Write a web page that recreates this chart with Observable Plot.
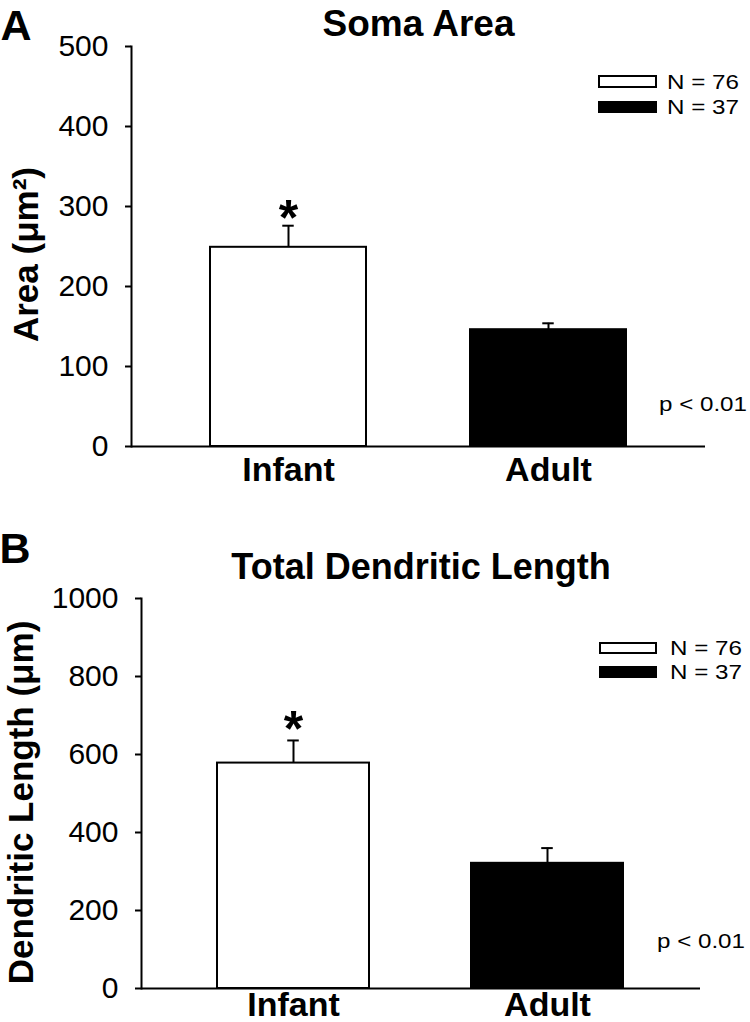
<!DOCTYPE html>
<html><head><meta charset="utf-8">
<script src="https://cdn.jsdelivr.net/npm/d3@7"></script>
<script src="https://cdn.jsdelivr.net/npm/@observablehq/plot@0.6"></script>
<style>
body{margin:0;background:#fff;}
#wrap{position:relative;width:750px;height:1022px;font-family:"Liberation Sans",Arial,sans-serif;overflow:hidden;}
.panel{position:absolute;left:0;}
.box{position:absolute;box-sizing:border-box;border:2px solid #000;}
.lt{position:absolute;font-size:21px;line-height:21px;white-space:nowrap;transform:scaleX(1.15);transform-origin:0 0;color:#000;}
</style></head><body><div id="wrap"></div>
<script>
// ---- data ----
const groups = ["Infant", "Adult"];
const groupFill = ["white", "black"];
const groupN = ["N = 76", "N = 37"];
const somaMean = [249, 146];
const somaErr = [27, 8];
const dendMean = [578, 321];
const dendErr = [58, 39];
const somaTicks = [0, 100, 200, 300, 400, 500];
const dendTicks = [0, 200, 400, 600, 800, 1000];
const pText = "p < 0.01";

const wrap = document.getElementById("wrap");
const FONT = "'Liberation Sans', Arial, sans-serif";

function panel(cfg) {
  const data = groups.map((g, i) => ({group: g, mean: cfg.means[i], err: cfg.errs[i], fill: groupFill[i]}));
  const W = 750;
  const step = (W - cfg.ml - cfg.mr) / 2.2;
  const capInset = (step * 0.6 - 12) / 2;
  const svg = Plot.plot({
    width: W, height: cfg.h,
    marginLeft: cfg.ml, marginRight: cfg.mr, marginTop: cfg.mt, marginBottom: cfg.mb,
    style: {fontFamily: FONT, background: "white", color: "black", overflow: "visible"},
    x: {domain: groups, paddingInner: 0.4, paddingOuter: 0.3, label: null},
    y: {domain: [0, cfg.ymax], label: null},
    color: {type: "identity"},
    marks: [
      Plot.barY(data, {x: "group", y: "mean", fill: "fill", stroke: "black", strokeWidth: 2}),
      Plot.ruleX(data, {x: "group", y1: "mean", y2: d => d.mean + d.err, stroke: "black", strokeWidth: 2}),
      Plot.tickY(data, {x: "group", y: d => d.mean + d.err, stroke: "black", strokeWidth: 2, inset: capInset}),
      Plot.text(data.slice(0, 1), {x: "group", y: d => d.mean + d.err, text: () => "*", fontSize: 50, fontWeight: "bold", lineAnchor: "bottom", dy: cfg.starDy, fill: "black"}),
      Plot.ruleY([0], {stroke: "black", strokeWidth: 2}),
      Plot.frame({anchor: "left", stroke: "black", strokeWidth: 2}),
      Plot.axisY({ticks: cfg.ticks, tickSize: 6, tickPadding: 17, fontSize: 30, tickFormat: d => String(d), stroke: "black", strokeWidth: 2, label: null, fill: "black"}),
      Plot.axisX({tickSize: 0, tickPadding: cfg.xpad, fontSize: 34, fontWeight: "bold", label: null, fill: "black"}),
      Plot.text([cfg.title], {frameAnchor: "top", text: d => d, fontSize: cfg.titleSize, fontWeight: "bold", lineAnchor: "bottom", dy: cfg.titleDy, fill: "black"}),
      Plot.text([cfg.letter], {frameAnchor: "top-left", text: d => d, fontSize: 43, fontWeight: "bold", textAnchor: "start", lineAnchor: "bottom", dx: cfg.letterDx, dy: cfg.letterDy, fill: "black"}),
      Plot.text([cfg.ylabel], {frameAnchor: "left", text: d => d, fontSize: 35, fontWeight: "bold", rotate: -90, textAnchor: "middle", lineAnchor: "middle", dx: cfg.ylabDx, dy: cfg.ylabDy, fill: "black"})
    ]
  });
  const div = document.createElement("div");
  div.className = "panel";
  div.style.top = cfg.top + "px";
  div.appendChild(svg);
  // legend
  const L = cfg.legend;
  groups.forEach((g, i) => {
    const b = document.createElement("div");
    b.className = "box";
    b.style.left = L.x + "px"; b.style.top = L.boxY[i] + "px";
    b.style.width = L.w + "px"; b.style.height = L.bh[i] + "px";
    b.style.background = groupFill[i];
    div.appendChild(b);
    const t = document.createElement("div");
    t.className = "lt";
    t.textContent = groupN[i];
    t.style.left = L.tx + "px"; t.style.top = (L.base[i] - 18) + "px";
    div.appendChild(t);
  });
  const p = document.createElement("div");
  p.className = "lt";
  p.textContent = pText;
  p.style.left = cfg.p.x + "px"; p.style.top = (cfg.p.base - 18) + "px";
  div.appendChild(p);
  wrap.appendChild(div);
}

panel({
  top: 0, h: 505, ml: 131, mr: 45, mt: 46, mb: 59,
  means: somaMean, errs: somaErr, ymax: 500, ticks: somaTicks,
  title: "Soma Area", titleSize: 37, titleDy: -11,
  letter: "A", letterDx: -131, letterDy: -7,
  ylabel: "Area (\u03bcm\u00b2)", ylabDx: -105, ylabDy: 8,
  xpad: 10, starDy: 9,
  legend: {x: 598, w: 59, boxY: [75, 101], bh: [13, 12], tx: 667, base: [89, 114]},
  p: {x: 659, base: 411}
});
panel({
  top: 505, h: 517, ml: 141, mr: 50, mt: 93, mb: 34,
  means: dendMean, errs: dendErr, ymax: 1000, ticks: dendTicks,
  title: "Total Dendritic Length", titleSize: 36, titleDy: -20,
  letter: "B", letterDx: -142, letterDy: -36,
  ylabel: "Dendritic Length (\u03bcm)", ylabDx: -120, ylabDy: 9,
  xpad: 3, starDy: 6,
  legend: {x: 599, w: 58, boxY: [137, 161], bh: [12, 12], tx: 670, base: [150, 174]},
  p: {x: 657, base: 443}
});
</script></body></html>
